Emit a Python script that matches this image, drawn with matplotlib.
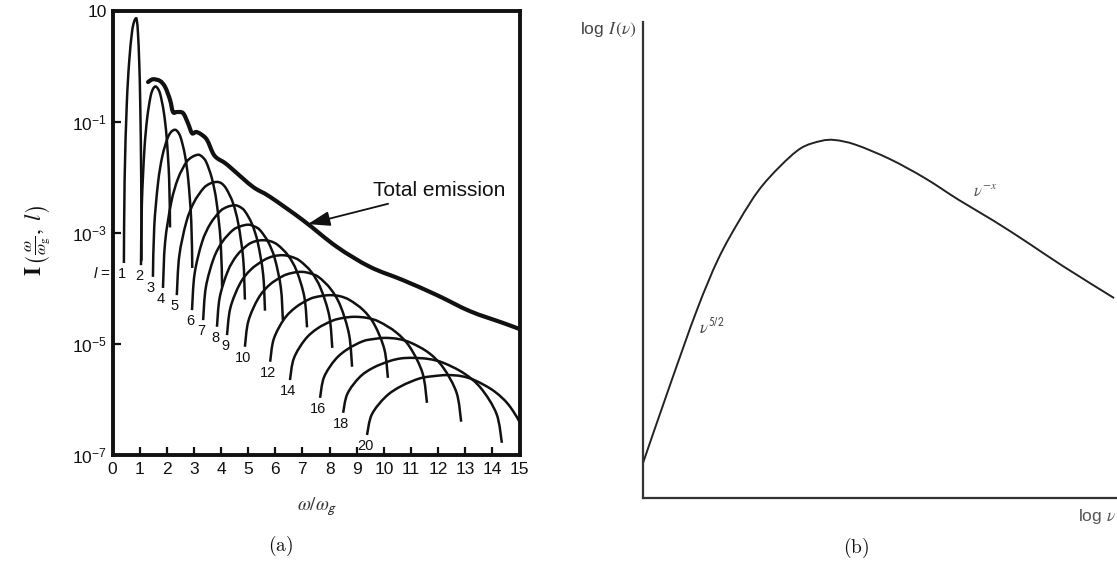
import numpy as np
import matplotlib
matplotlib.use("Agg")
import matplotlib.pyplot as plt
from matplotlib.path import Path
from matplotlib.patches import PathPatch

plt.rcParams['font.family'] = ['Liberation Sans', 'DejaVu Sans']
plt.rcParams['mathtext.fontset'] = 'custom'
plt.rcParams['mathtext.rm'] = 'Liberation Sans'
plt.rcParams['mathtext.it'] = 'Liberation Sans:italic'
plt.rcParams['mathtext.bf'] = 'Liberation Sans:bold'

# ---------------- panel (a): harmonics, x = omega/omega_g, log10 I ----------------
harmonic_numbers = [1, 2, 3, 4, 5, 6, 7, 8, 9, 10, 12, 14, 16, 18, 20]

l1_x = [0.42, 0.447, 0.525, 0.612, 0.716, 0.792, 0.87, 0.905, 0.938, 0.985, 1.023, 1.058, 1.07]
l1_logI = [-3.54, -2.03, -0.70, 0.07, 0.61, 0.80, 0.87, 0.80, 0.61, 0.08, -0.69, -2.01, -3.50]
l2_x = [1.05, 1.082, 1.174, 1.276, 1.399, 1.488, 1.58, 1.674, 1.765, 1.890, 1.994, 2.088, 2.12]
l2_logI = [-3.58, -2.48, -1.51, -0.94, -0.55, -0.41, -0.36, -0.40, -0.51, -0.82, -1.27, -2.03, -2.90]
l3_x = [1.49, 1.539, 1.680, 1.835, 2.023, 2.159, 2.30, 2.411, 2.519, 2.667, 2.790, 2.902, 2.94]
l3_logI = [-3.79, -2.88, -2.09, -1.62, -1.30, -1.18, -1.14, -1.18, -1.29, -1.59, -2.03, -2.78, -3.63]
l4_x = [1.86, 1.938, 2.164, 2.414, 2.715, 2.934, 3.16, 3.313, 3.461, 3.665, 3.834, 3.987, 4.04]
l4_logI = [-3.99, -3.17, -2.45, -2.02, -1.73, -1.63, -1.59, -1.63, -1.73, -2.02, -2.44, -3.16, -3.97]
l5_x = [2.37, 2.459, 2.716, 3.000, 3.344, 3.592, 3.85, 4.029, 4.202, 4.441, 4.639, 4.818, 4.88]
l5_logI = [-4.12, -3.42, -2.81, -2.45, -2.20, -2.11, -2.08, -2.11, -2.21, -2.46, -2.84, -3.47, -4.20]
l6_x = [2.93, 3.024, 3.297, 3.599, 3.963, 4.227, 4.50, 4.695, 4.883, 5.143, 5.358, 5.553, 5.62]
l6_logI = [-4.39, -3.74, -3.17, -2.84, -2.61, -2.53, -2.50, -2.53, -2.61, -2.84, -3.18, -3.75, -4.40]
l7_x = [3.34, 3.440, 3.728, 4.047, 4.432, 4.711, 5.00, 5.223, 5.438, 5.735, 5.980, 6.203, 6.28]
l7_logI = [-4.57, -3.98, -3.46, -3.16, -2.95, -2.88, -2.85, -2.88, -2.95, -3.16, -3.46, -3.98, -4.57]
l8_x = [3.85, 3.952, 4.248, 4.574, 4.969, 5.254, 5.55, 5.832, 6.104, 6.480, 6.791, 7.073, 7.17]
l8_logI = [-4.69, -4.16, -3.69, -3.41, -3.22, -3.15, -3.13, -3.15, -3.22, -3.41, -3.69, -4.16, -4.70]
l9_x = [4.22, 4.344, 4.702, 5.098, 5.575, 5.922, 6.28, 6.597, 6.902, 7.325, 7.674, 7.991, 8.10]
l9_logI = [-4.84, -4.35, -3.91, -3.66, -3.49, -3.42, -3.40, -3.43, -3.50, -3.70, -4.00, -4.50, -5.07]
l10_x = [4.88, 5.006, 5.371, 5.775, 6.262, 6.615, 6.98, 7.302, 7.613, 8.042, 8.397, 8.719, 8.83]
l10_logI = [-5.05, -4.59, -4.18, -3.94, -3.78, -3.72, -3.70, -3.73, -3.80, -4.01, -4.31, -4.83, -5.41]
l12_x = [5.81, 5.943, 6.327, 6.751, 7.264, 7.635, 8.02, 8.391, 8.748, 9.243, 9.652, 10.022, 10.15]
l12_logI = [-5.32, -4.91, -4.55, -4.34, -4.19, -4.14, -4.12, -4.14, -4.21, -4.39, -4.65, -5.10, -5.61]
l14_x = [6.54, 6.683, 7.097, 7.554, 8.106, 8.506, 8.92, 9.385, 9.833, 10.453, 10.965, 11.430, 11.59]
l14_logI = [-5.65, -5.26, -4.92, -4.72, -4.58, -4.53, -4.51, -4.53, -4.60, -4.79, -5.06, -5.53, -6.06]
l16_x = [7.65, 7.794, 8.212, 8.672, 9.229, 9.632, 10.05, 10.537, 11.008, 11.657, 12.195, 12.682, 12.85]
l16_logI = [-5.97, -5.60, -5.28, -5.09, -4.95, -4.91, -4.89, -4.91, -4.98, -5.16, -5.43, -5.88, -6.40]
l18_x = [8.50, 8.655, 9.104, 9.599, 10.198, 10.631, 11.08, 11.649, 12.198, 12.957, 13.585, 14.154, 14.35]
l18_logI = [-6.24, -5.90, -5.60, -5.43, -5.31, -5.26, -5.25, -5.27, -5.34, -5.53, -5.80, -6.26, -6.78]
l20_x = [9.38, 9.557, 10.070, 10.637, 11.321, 11.817, 12.33, 12.864, 13.380, 14.092, 14.682, 15.216, 15.40]
l20_logI = [-6.64, -6.27, -5.95, -5.76, -5.62, -5.58, -5.56, -5.58, -5.66, -5.86, -6.15, -6.64, -7.20]

total_x = [1.31, 1.49, 1.75, 1.94, 2.12, 2.23, 2.38, 2.60, 2.78, 2.93, 3.08, 3.26, 3.48,
           3.70, 3.85, 4.15, 4.44, 5.18, 5.81, 7.02, 8.27, 9.49, 10.71, 11.96, 13.18, 14.39, 15.0]
total_logI = [-0.28, -0.23, -0.26, -0.37, -0.60, -0.82, -0.82, -0.84, -1.02, -1.20, -1.18, -1.22, -1.32,
              -1.56, -1.65, -1.74, -1.86, -2.17, -2.35, -2.77, -3.25, -3.61, -3.85, -4.12, -4.41, -4.62, -4.73]

a_xticks = list(range(0, 16))
a_yticks = [10.0, 1e-1, 1e-3, 1e-5, 1e-7]
a_yticklabels = ['10', r'$10^{-1}$', r'$10^{-3}$', r'$10^{-5}$', r'$10^{-7}$']

# ---------------- panel (b): schematic spectrum (axis fractions) ----------------
b_log_nu = [0.0, 0.057, 0.114, 0.159, 0.203, 0.245, 0.290, 0.334, 0.376, 0.406,
            0.450, 0.522, 0.596, 0.668, 0.742, 0.814, 0.888, 0.996]
b_log_I = [0.0735, 0.237, 0.395, 0.502, 0.582, 0.647, 0.697, 0.735, 0.750, 0.752,
           0.742, 0.712, 0.672, 0.626, 0.582, 0.536, 0.487, 0.420]

harm_x = [l1_x, l2_x, l3_x, l4_x, l5_x, l6_x, l7_x, l8_x, l9_x, l10_x, l12_x, l14_x, l16_x, l18_x, l20_x]
harm_logI = [l1_logI, l2_logI, l3_logI, l4_logI, l5_logI, l6_logI, l7_logI, l8_logI, l9_logI,
             l10_logI, l12_logI, l14_logI, l16_logI, l18_logI, l20_logI]


def smooth_path(xs, ys, logy=False):
    """Smooth path through the given points (Bezier segments drawn by matplotlib)."""
    P = np.column_stack([np.asarray(xs, float), np.asarray(ys, float)])
    n = len(P)
    verts = [P[0]]
    codes = [Path.MOVETO]
    for i in range(n - 1):
        p0 = P[i - 1] if i > 0 else P[i]
        p1, p2 = P[i], P[i + 1]
        p3 = P[i + 2] if i + 2 < n else P[i + 1]
        verts += [p1 + (p2 - p0) / 6.0, p2 - (p3 - p1) / 6.0, p2]
        codes += [Path.CURVE4] * 3
    V = np.array(verts)
    if logy:
        V[:, 1] = 10.0 ** V[:, 1]
    return Path(V, codes)


W, H = 1117, 572
fig = plt.figure(figsize=(W / 100, H / 100), dpi=100)
ink = '#111111'

# ---- panel (a)
axa = fig.add_axes([112.5 / W, 1 - 455 / H, 407 / W, 444 / H])
axa.set_yscale('log')
axa.set_xlim(0, 15)
axa.set_ylim(1e-7, 10)

for l, xs, ls in zip(harmonic_numbers, harm_x, harm_logI):
    axa.add_patch(PathPatch(smooth_path(xs, ls, logy=True), fill=False, edgecolor=ink,
                            lw=1.8, capstyle='butt', transform=axa.transData))
    axa.annotate(str(l), xy=(xs[0], 10.0 ** ls[0]), xytext=(-2, -11), textcoords='offset pixels',
                 ha='center', va='center', fontsize=10.5, color=ink)
axa.annotate(r'$l$ =', xy=(l1_x[0], 10.0 ** l1_logI[0]), xytext=(-22, -11), textcoords='offset pixels',
             ha='center', va='center', fontsize=11, color=ink)
axa.add_patch(PathPatch(smooth_path(total_x, total_logI, logy=True), fill=False, edgecolor=ink,
                        lw=3.0, capstyle='round', transform=axa.transData))

axa.set_xticks(a_xticks)
axa.set_xticklabels([str(t) for t in a_xticks])
axa.set_yticks(a_yticks)
axa.set_yticklabels(a_yticklabels)
axa.yaxis.set_minor_locator(matplotlib.ticker.NullLocator())
axa.tick_params(direction='in', length=6, width=1.6, labelsize=12.5, pad=4, colors=ink)
axa.tick_params(axis='x', pad=5)
for sp in axa.spines.values():
    sp.set_linewidth(2.8)
    sp.set_color(ink)

axa.annotate('Total emission', xy=(7.2, 10 ** -2.84), xytext=(9.6, 10 ** -2.24),
             fontsize=15, color=ink, ha='left', va='center',
             arrowprops=dict(arrowstyle='-|>,head_length=0.9,head_width=0.3', color=ink, lw=1.3,
                             shrinkA=2, shrinkB=0))

fig.text(38 / W, 1 - 240 / H, r'$\mathbf{I}\,\left(\frac{\omega}{\omega_{\mathrm{g}}},\ l\right)$',
         rotation=90, ha='center', va='center', fontsize=16.5, color=ink, math_fontfamily='stix')
fig.text(317 / W, 1 - 507 / H, r'$\omega/\omega_{\mathsf{g}}$', ha='center', va='center',
         fontsize=13.5, color='#333333', math_fontfamily='stix')
fig.text(281 / W, 1 - 546 / H, r'$(\mathrm{a})$', ha='center', va='center', fontsize=14,
         math_fontfamily='cm', color='#111111')

# ---- panel (b)
axb = fig.add_axes([643 / W, 1 - 498 / H, 473 / W, 476 / H])
axb.set_xlim(0, 1)
axb.set_ylim(0, 1)
axb.add_patch(PathPatch(smooth_path(b_log_nu, b_log_I), fill=False, edgecolor='#222222', lw=1.4,
                        transform=axb.transData))
axb.set_xticks([])
axb.set_yticks([])
for s in ['top', 'right']:
    axb.spines[s].set_visible(False)
for s in ['left', 'bottom']:
    axb.spines[s].set_linewidth(1.6)
    axb.spines[s].set_color('#333333')

fig.text(637 / W, 1 - 30 / H, r'log $I\,(\nu)$', ha='right', va='center', fontsize=12.5,
         color='#444444', math_fontfamily='stix')
fig.text(1116 / W, 1 - 516 / H, r'log $\nu$', ha='right', va='center', fontsize=12.5,
         color='#555555', math_fontfamily='stix')
axb.text(0.118, 0.36, r'$\nu^{\mathsf{5/2}}$', ha='left', va='center', fontsize=12,
         color='#444444', math_fontfamily='stix')
axb.text(0.697, 0.645, r'$\nu^{-x}$', ha='left', va='center', fontsize=12,
         color='#555555', math_fontfamily='stix')
fig.text(856 / W, 1 - 548 / H, r'$(\mathrm{b})$', ha='center', va='center', fontsize=14,
         math_fontfamily='cm', color='#111111')

fig.savefig('out.png', dpi=100)
